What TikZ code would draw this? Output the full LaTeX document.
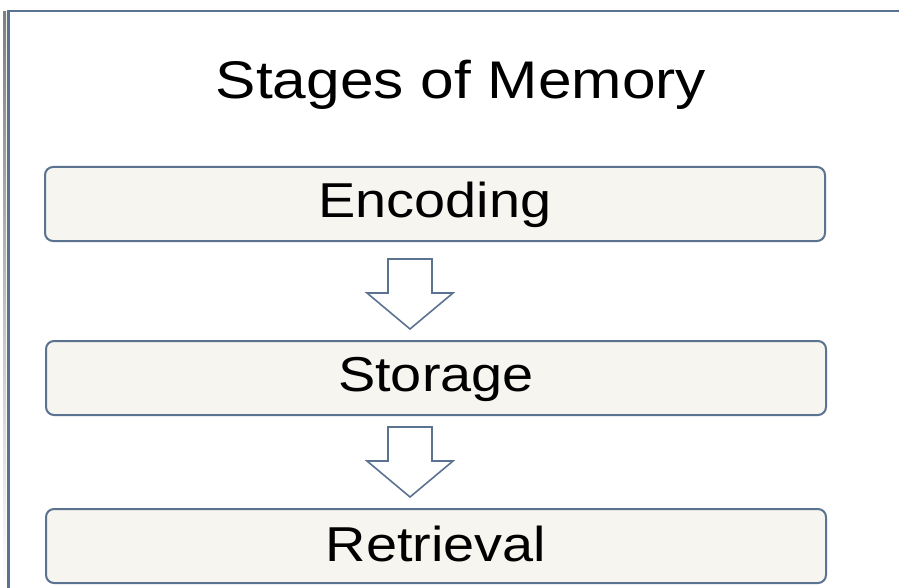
\documentclass[tikz,border=0pt]{standalone}
\usepackage{fontspec}
\setmainfont{Liberation Sans}
\definecolor{edge}{HTML}{5B7291}
\definecolor{boxfill}{HTML}{F6F5F0}
\definecolor{shade}{HTML}{E8ECEE}
\newcommand{\widetext}[1]{\raisebox{-3pt}{\scalebox{1.14}[1]{#1}}}
\tikzset{
  stagebox/.style={draw=edge, line width=2pt, fill=boxfill, rounded corners=8pt,
    minimum width=780pt, minimum height=74pt, inner sep=0pt, font=\fontsize{49}{55}\selectfont},
  downarrow/.style={draw=edge, line width=1.6pt, fill=white, line join=miter}
}
\begin{document}
\begin{tikzpicture}[x=1pt,y=-1pt]
\useasboundingbox (0,0) rectangle (899,588);
\fill[white] (0,0) rectangle (899,588);
\fill[shade] (3,12) rectangle (6,588);
\draw[edge, line width=2.2pt] (8.5,588) -- (8.5,11) -- (899,11);
\node[font=\fontsize{53}{60}\selectfont] (title) at (461,85) {\scalebox{1.14}[1]{Stages of Memory}};
\node[stagebox] (enc) at (435,204) {\widetext{Encoding}\vphantom{Sg}};
\node[stagebox] (sto) at (436,378) {\widetext{Storage}\vphantom{Sg}};
\node[stagebox] (ret) at (436,546) {\widetext{Retrieval}\vphantom{Sg}};
\draw[downarrow] (388,259) -- (432,259) -- (432,293) -- (453,293) -- (410,329) -- (367,293) -- (388,293) -- cycle;
\draw[downarrow] (388,427) -- (432,427) -- (432,461) -- (453,461) -- (410,497) -- (367,461) -- (388,461) -- cycle;
\end{tikzpicture}
\end{document}
